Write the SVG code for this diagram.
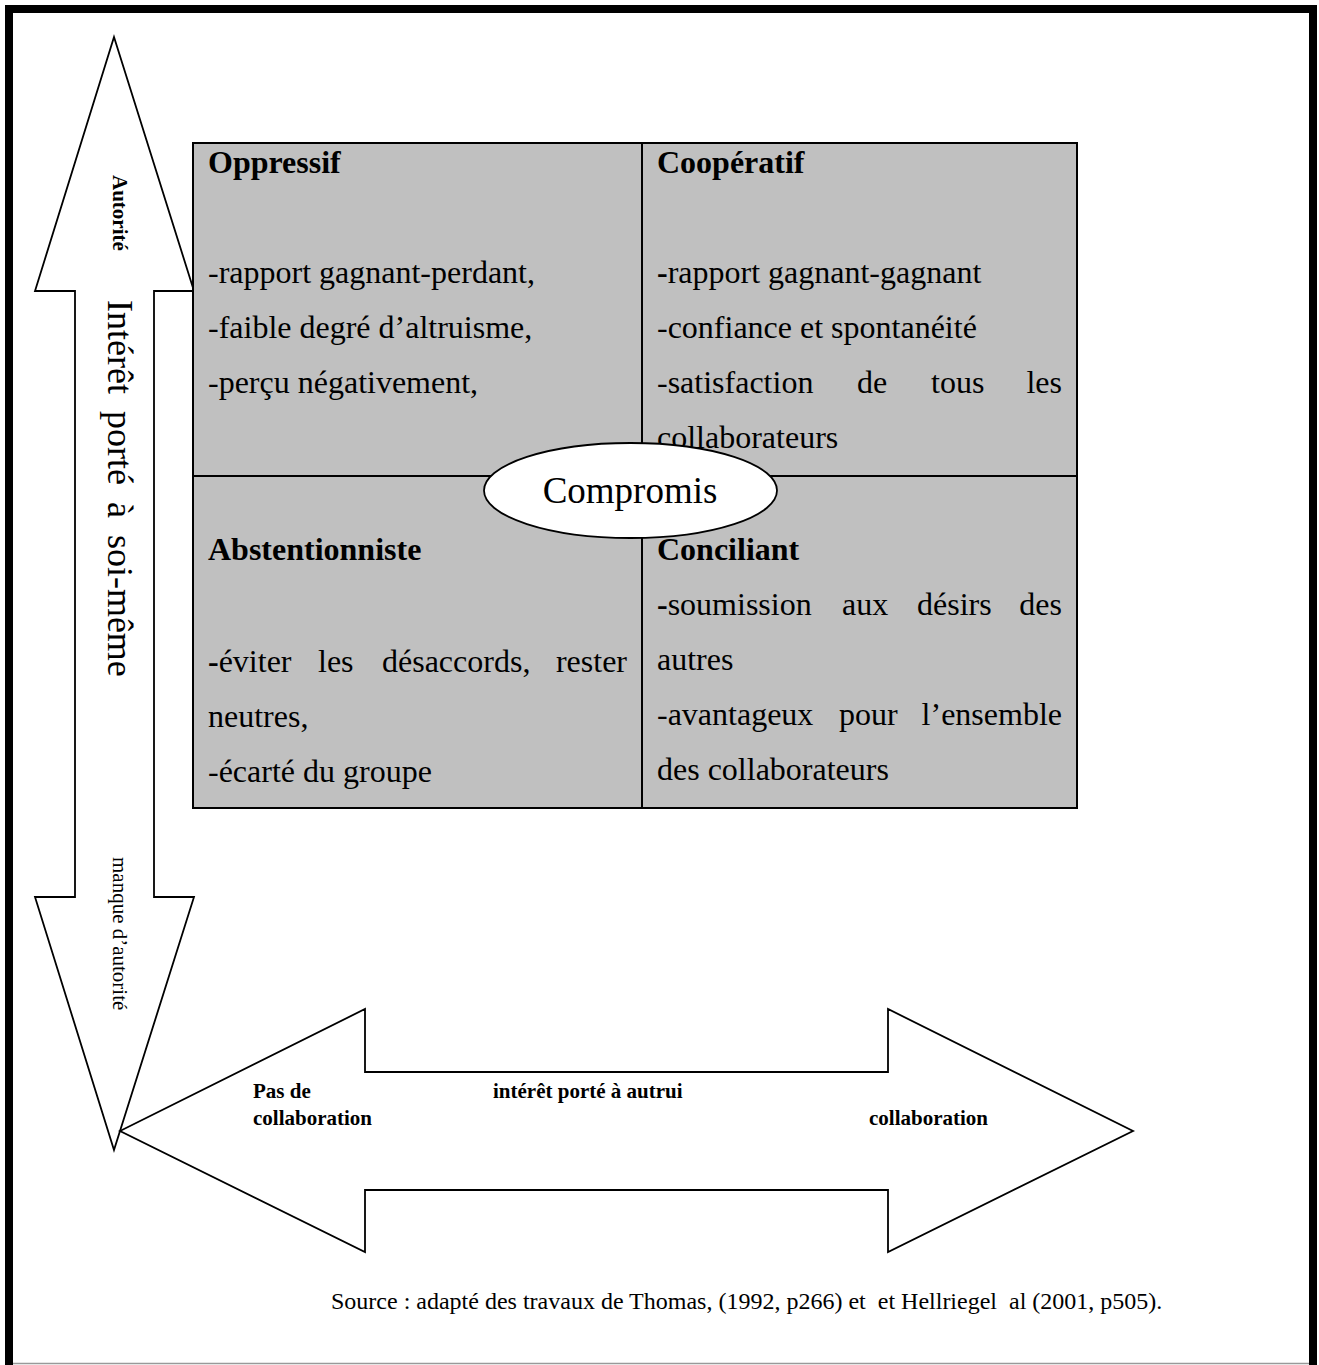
<svg xmlns="http://www.w3.org/2000/svg" width="1319" height="1365" viewBox="0 0 1319 1365">
<style>
.arrow{fill:#fff;stroke:#000;stroke-width:1.8;stroke-linejoin:miter}
.cell{fill:#c0c0c0;stroke:#000;stroke-width:2}
.t{font-family:"Liberation Serif","Times New Roman",serif;fill:#000}
.h{font-size:32px;font-weight:bold}
.b{font-size:32px}
.s{font-size:21px}
.sb{font-size:21px;font-weight:bold}
</style>
<rect x="0" y="0" width="1319" height="1365" fill="#fff"/>
<g id="frame">
<rect x="5" y="5" width="8" height="1360" fill="#000"/>
<rect x="5" y="5" width="1312" height="8" fill="#000"/>
<rect x="1309" y="5" width="8" height="1360" fill="#000"/>
<line x1="13" y1="1363.5" x2="1309" y2="1363.5" stroke="#999" stroke-width="1.5"/>
</g>
<g id="connectors">
<g id="vertical-arrow">
<polygon class="arrow" points="114,37 194,291 154,291 154,897 194,897 114,1150 35,897 75,897 75,291 35,291"/>
<text class="t sb" transform="translate(113,175) rotate(90)">Autorité</text>
<text class="t" font-size="36" word-spacing="8" transform="translate(108,300) rotate(90)">Intérêt porté à soi-même</text>
<text class="t s" transform="translate(113,857) rotate(90)">manque d’autorité</text>
</g>
<g id="horizontal-arrow">
<polygon class="arrow" points="120,1131 365,1009 365,1072 888,1072 888,1009 1133,1131 888,1252 888,1190 365,1190 365,1252"/>
<text class="t sb" x="253" y="1098">Pas de</text>
<text class="t sb" x="253" y="1125">collaboration</text>
<text class="t sb" x="493" y="1098">intérêt porté à autrui</text>
<text class="t sb" x="869" y="1125">collaboration</text>
</g>
</g>
<g id="grid">
<rect class="cell" x="193" y="143" width="884" height="665"/>
<line x1="642" y1="143" x2="642" y2="808" stroke="#000" stroke-width="2"/>
<line x1="193" y1="476" x2="1077" y2="476" stroke="#000" stroke-width="2"/>
</g>
<g id="oppressif">
<text class="t h" x="208" y="173">Oppressif</text>
<text class="t b" x="208" y="283">-rapport gagnant-perdant,</text>
<text class="t b" x="208" y="338">-faible degré d’altruisme,</text>
<text class="t b" x="208" y="393">-perçu négativement,</text>
</g>
<g id="cooperatif">
<text class="t h" x="657" y="173">Coopératif</text>
<text class="t b" x="657" y="283"><tspan font-weight="bold">-</tspan>rapport gagnant-gagnant</text>
<text class="t b" x="657" y="338">-confiance et spontanéité</text>
<text class="t b" y="393"><tspan x="657">-satisfaction</tspan><tspan x="857">de</tspan><tspan x="931">tous</tspan></text>
<text class="t b" x="1062" y="393" text-anchor="end">les</text>
<text class="t b" x="657" y="448">collaborateurs</text>
</g>
<g id="abstentionniste">
<text class="t h" x="208" y="560">Abstentionniste</text>
<text class="t b" y="672"><tspan x="208" font-weight="bold">-</tspan><tspan>éviter</tspan><tspan x="318">les</tspan><tspan x="382">désaccords,</tspan></text>
<text class="t b" x="627" y="672" text-anchor="end">rester</text>
<text class="t b" x="208" y="727">neutres,</text>
<text class="t b" x="208" y="782">-écarté du groupe</text>
</g>
<g id="conciliant">
<text class="t h" x="657" y="560">Conciliant</text>
<text class="t b" y="615"><tspan x="657" font-weight="bold">-</tspan><tspan>soumission</tspan><tspan x="842">aux</tspan><tspan x="917">désirs</tspan></text>
<text class="t b" x="1062" y="615" text-anchor="end">des</text>
<text class="t b" x="657" y="670">autres</text>
<text class="t b" y="725"><tspan x="657">-avantageux</tspan><tspan x="839">pour</tspan></text>
<text class="t b" x="1062" y="725" text-anchor="end">l’ensemble</text>
<text class="t b" x="657" y="780">des collaborateurs</text>
</g>
<g id="compromis">
<ellipse cx="630.5" cy="490.5" rx="146.5" ry="47.5" fill="#fff" stroke="#000" stroke-width="1.8"/>
<text class="t" font-size="37" x="630" y="503" text-anchor="middle">Compromis</text>
</g>
<g id="source">
<text class="t" font-size="24" x="331" y="1309" xml:space="preserve">Source : adapté des travaux de Thomas, (1992, p266) et  et Hellriegel  al (2001, p505).</text>
</g>
</svg>
